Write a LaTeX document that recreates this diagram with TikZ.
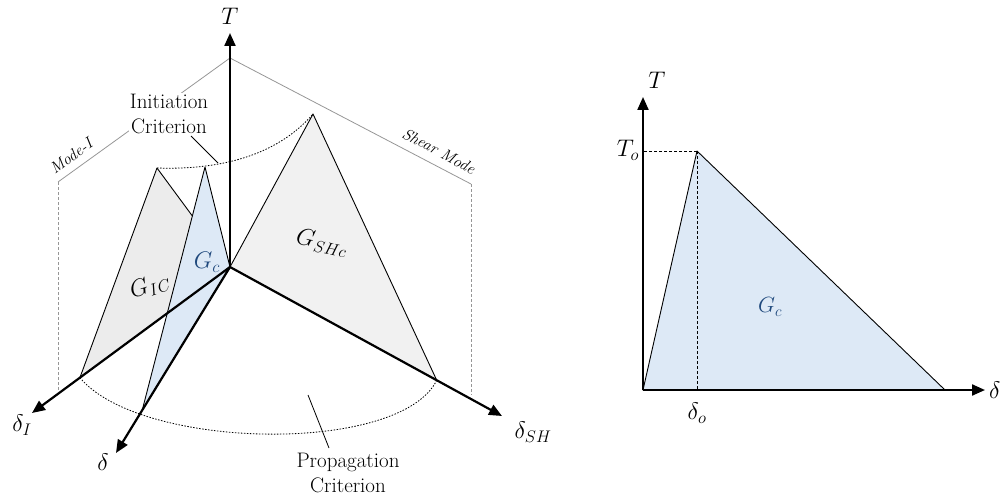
\RequirePackage{fix-cm}
\documentclass[tikz,border=0pt]{standalone}
\usepackage{fontspec}
\usetikzlibrary{arrows.meta,calc}
\definecolor{fillgray}{RGB}{241,241,241}
\definecolor{fillgrayb}{RGB}{236,236,236}
\definecolor{fillblue}{RGB}{221,233,246}
\definecolor{labelblue}{RGB}{31,73,125}
\definecolor{planegray}{RGB}{150,150,150}
\begin{document}
\begin{tikzpicture}[x=1pt,y=-1pt,
  axis/.style={line width=2.2pt,-{Triangle[length=13pt,width=11pt]}},
  face/.style={draw=black,line width=0.9pt,line join=round},
  plane/.style={draw=planegray,line width=0.8pt},
  planedash/.style={draw=planegray,line width=0.8pt,dash pattern=on 3pt off 2pt},
  crit/.style={line width=0.8pt,dash pattern=on 1.5pt off 1.5pt},
  leader/.style={line width=0.8pt},
  guide/.style={line width=0.8pt,dash pattern=on 3pt off 2pt},
  txt/.style={font=\fontsize{21}{25}\selectfont,align=center,inner sep=1pt},
  lab/.style={font=\fontsize{24}{28}\selectfont,inner sep=0pt},
  small/.style={font=\fontsize{16}{18}\selectfont\itshape,inner sep=0pt}
]
\useasboundingbox (0,0) rectangle (1000,497);
% ---------------- left diagram ----------------
\coordinate (O) at (230,267);
\coordinate (Ttip) at (230,33);
\coordinate (dItip) at (32,413);
\coordinate (dtip) at (116,453);
\coordinate (dSHtip) at (502,416);
\coordinate (Top) at (230,58);
\coordinate (PL) at (58,182);
\coordinate (PLb) at (58,390);
\coordinate (PR) at (471,184);
\coordinate (PRb) at (471,395);
\coordinate (Ipk) at (157,168);
\coordinate (Ibt) at ($(O)!0.758!(dItip)$);
\coordinate (Cpk) at (205,167);
\coordinate (Cbt) at ($(O)!0.77!(dtip)$);
\coordinate (Spk) at (313,114);
\coordinate (Sbt) at ($(O)!0.76!(dSHtip)$);

% mode planes
\draw[plane] (PL) -- (Top) -- (PR);
\draw[planedash] (PL) -- (PLb);
\draw[planedash] (PR) -- (PRb);
\node[small,rotate=36] (modeI) at (71,156) {Mode-I};
\node[small,rotate=-28] (shear) at (439,151) {Shear Mode};

% faces
\draw[face,fill=fillgrayb] (O) -- (Ipk) -- (Ibt) -- cycle;
\draw[face,fill=fillblue] (O) -- (Cpk) -- (Cbt) -- cycle;
\draw[face,fill=fillgray] (O) -- (Spk) -- (Sbt) -- cycle;

% criteria curves
\draw[crit] (Ipk) .. controls (215,170) and (275,158) .. (Spk);
\draw[crit] (Ibt) .. controls (140,450) and (400,455) .. (Sbt);

% axes
\draw[axis] (O) -- (Ttip);
\draw[axis] (O) -- (dItip);
\draw[axis] (O) -- (dtip);
\draw[axis] (O) -- (dSHtip);

% labels
\node[lab] (Tlab) at (230,16) {$T$};
\node[lab] (dIlab) at (22,425) {$\delta_I$};
\node[lab] (dlab) at (103,462) {$\delta$};
\node[lab] (dSHlab) at (533,432) {$\delta_{SH}$};
\node[lab,rotate=18] (GIC) at (150,286) {$G_{IC}$};
\node[lab,text=labelblue] (GC) at (207,262) {$G_c$};
\node[lab,rotate=-12] (GSH) at (322,243) {$G_{SHc}$};

\node[txt,fill=white] (init) at (169,114) {Initiation\\Criterion};
\coordinate (initA) at (191,136);
\coordinate (initB) at (218,163);
\draw[leader] (initA) -- (initB);

\node[txt] (prop) at (348,473) {Propagation\\Criterion};
\coordinate (propA) at (329,448);
\coordinate (propB) at (308,395);
\draw[leader] (propA) -- (propB);

% ---------------- right diagram ----------------
\coordinate (O2) at (643,390);
\coordinate (T2tip) at (643,97);
\coordinate (d2tip) at (985,390);
\coordinate (P2) at (697,151);
\coordinate (E2) at (945,390);
\draw[face,fill=fillblue] (O2) -- (P2) -- (E2) -- cycle;
\draw[guide] (P2) -- (O2 |- P2);
\draw[guide] (P2) -- (P2 |- O2);
\draw[axis] (O2) -- (T2tip);
\draw[axis] (O2) -- (d2tip);
\node[lab] (T2lab) at (657,80) {$T$};
\node[lab] (Tolab) at (628,150) {$T_o$};
\node[lab] (dolab) at (697,413) {$\delta_o$};
\node[lab,anchor=west] (d2lab) at (989,390) {$\delta$};
\node[lab,text=labelblue,font=\fontsize{22}{26}\selectfont] (GC2) at (770,307) {$G_c$};
\end{tikzpicture}
\end{document}
